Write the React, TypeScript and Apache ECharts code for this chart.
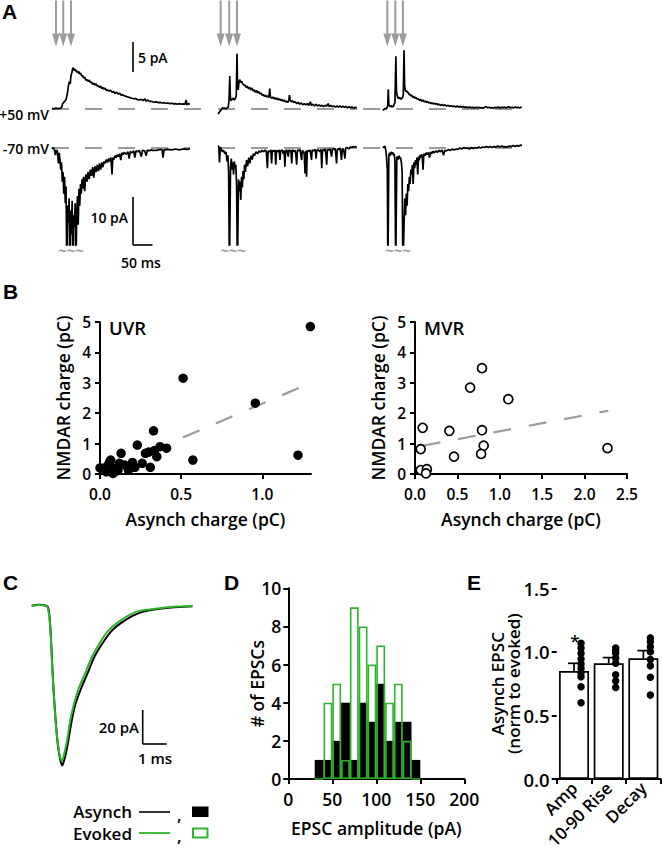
import React, { useEffect, useRef } from "react";
import * as echarts from "echarts";

const FONT = "'Open Sans', 'Noto Sans', sans-serif";
const LETTER_FONT = "'Liberation Sans', Arial, sans-serif";
const WEIGHT = 600;
const GREEN = "#2cb52c";
const GRAY = "#9c9c9c";

// ---------------- Panel A data: [time (ms), current (pA)] ----------------
const col1Pos50: number[][] = [[0,0.1],[5,0.0],[10,0.15],[15,0.05],[20,0.1],[25,0.2],[28,0.9],[31,1.1],[34,1.3],[37,1.6],[40,2.4],[43,3.8],[46,4.6],[48,4.2],[50,5.6],[52,6.0],[54,6.6],[56,6.9],[58,6.4],[60,6.7],[62,6.3],[64,6.5],[66,6.1],[68,6.3],[70,5.9],[72,6.2],[74,5.8],[76,5.9],[78,5.5],[80,5.6],[83,5.2],[86,5.3],[89,4.8],[92,4.9],[95,4.6],[98,4.8],[101,4.4],[104,4.5],[107,4.1],[110,4.3],[113,4.0],[116,4.2],[119,3.8],[122,3.9],[125,3.6],[128,3.8],[131,3.4],[134,3.6],[137,3.3],[140,3.5],[143,3.1],[146,3.2],[150,3.0],[154,3.1],[158,2.8],[162,2.9],[166,2.6],[170,2.8],[174,2.5],[178,2.6],[182,2.3],[186,2.4],[190,2.2],[195,2.1],[200,2.0],[205,1.9],[210,1.8],[215,1.7],[220,1.75],[225,1.55],[230,1.5],[235,1.6],[240,1.4],[244,1.7],[248,1.3],[252,1.5],[256,1.25],[260,1.3],[265,1.2],[270,1.15],[275,1.2],[280,1.05],[285,1.1],[290,1.0],[295,1.05],[300,0.95],[305,1.0],[310,0.9],[315,0.95],[320,0.85],[325,0.9],[330,0.8],[335,0.9],[340,0.8],[345,0.85],[350,0.8],[353,1.5],[355,0.7],[358,0.9],[363,0.8]];
const col1Neg70: number[][] = [[0,-0.2],[3,0.1],[6,-0.3],[9,-1.5],[11,-0.5],[14,-0.6],[17,-3.2],[19,-1.0],[21,-2.5],[23,-4.5],[25,-3.0],[27,-7.0],[29,-5.0],[31,-9.5],[33,-6.0],[35,-11.5],[37,-8.0],[39,-26],[41,-12.0],[43,-15.5],[45,-10.5],[47,-26],[49,-13.0],[51,-18.0],[53,-11.0],[55,-26],[57,-14.0],[59,-16.5],[61,-11.5],[63,-26],[65,-14.0],[67,-10.0],[69,-16.0],[71,-8.5],[73,-12.0],[75,-7.5],[77,-9.5],[79,-6.5],[81,-8.5],[83,-6.0],[86,-9.0],[89,-5.5],[92,-7.0],[95,-5.0],[98,-6.5],[101,-4.5],[104,-5.8],[107,-4.0],[110,-6.2],[113,-3.8],[116,-5.0],[119,-3.5],[122,-4.8],[125,-3.2],[128,-4.5],[131,-3.0],[134,-4.0],[137,-2.8],[140,-3.2],[143,-2.4],[146,-3.0],[149,-2.2],[152,-2.8],[155,-2.0],[158,-5.5],[160,-2.0],[163,-2.4],[166,-1.6],[169,-2.0],[172,-1.4],[175,-1.8],[178,-1.2],[181,-2.5],[184,-1.0],[187,-1.4],[190,-0.9],[195,-1.3],[200,-0.8],[203,-2.2],[206,-0.7],[210,-1.0],[215,-0.6],[218,-2.0],[221,-0.6],[226,-0.8],[230,-0.5],[235,-1.8],[238,-0.5],[244,-0.6],[248,-1.6],[251,-0.4],[256,-0.6],[260,-0.4],[265,-0.5],[275,-0.5],[285,-0.3],[290,-0.4],[292,-2.0],[295,-0.4],[305,-0.3],[315,-0.4],[325,-0.2],[335,-0.4],[345,-0.2],[355,-0.3],[363,-0.2]];

const col2Pos50: number[][] = [[0,-0.8],[3,-0.6],[6,-0.3],[9,-0.1],[12,0.2],[15,0.1],[18,0.15],[21,0.0],[24,0.2],[27,0.3],[29,1.5],[31,5.5],[32.5,2.0],[34,1.4],[37,1.6],[40,1.8],[43,1.5],[46,1.8],[48,2.2],[50,9.2],[51.5,4.0],[53,3.2],[55,4.3],[57,4.9],[59,4.6],[61,4.4],[63,4.6],[65,4.1],[67,4.2],[69,3.9],[71,4.0],[74,3.6],[77,3.8],[80,3.4],[83,3.6],[86,3.2],[89,3.5],[92,3.0],[95,3.2],[98,2.8],[101,3.1],[104,2.7],[107,2.9],[110,2.5],[113,2.7],[116,2.3],[119,2.4],[122,2.1],[125,2.3],[128,2.0],[131,2.2],[134,1.9],[136,3.4],[138,2.0],[141,1.8],[144,2.0],[147,1.7],[150,1.9],[153,1.6],[156,1.8],[159,1.5],[162,1.7],[165,1.4],[168,1.6],[171,1.3],[174,1.5],[177,1.2],[180,1.3],[183,1.1],[186,1.3],[188,2.3],[190,1.5],[193,1.2],[196,1.4],[199,1.1],[203,1.2],[207,0.9],[211,1.1],[215,0.8],[219,1.0],[223,0.7],[227,0.9],[231,0.7],[235,0.9],[239,0.6],[243,1.2],[246,0.6],[250,0.8],[254,0.5],[258,0.8],[262,0.5],[266,0.7],[270,0.5],[274,0.6],[278,0.4],[282,0.6],[286,0.5],[290,0.9],[293,0.4],[297,0.6],[301,0.4],[305,0.5],[309,0.3],[313,0.5],[317,0.3],[321,0.5],[325,0.3],[329,0.45],[333,0.3],[337,0.4],[341,0.2],[345,0.4],[349,0.2],[353,0.35],[357,0.1],[361,0.3],[365,0.15]];
const col2Neg70: number[][] = [[0,0.5],[2,0.3],[4,-3.0],[6,0.2],[9,-0.3],[12,-0.8],[15,-0.5],[18,-1.2],[21,-0.8],[24,-2.8],[26,-1.5],[28,-5.0],[30,-26],[33,-4.0],[35,-2.2],[37,-4.5],[39,-3.0],[41,-5.5],[43,-2.8],[45,-4.2],[47,-3.5],[49,-8.0],[51,-26],[54,-6.5],[56,-9.0],[58,-7.0],[60,-10.8],[62,-6.0],[64,-8.2],[66,-4.8],[68,-6.5],[70,-3.5],[72,-5.0],[75,-2.5],[78,-3.8],[81,-2.0],[84,-3.2],[87,-1.6],[90,-2.4],[93,-1.2],[96,-1.6],[100,-0.8],[104,-1.2],[108,-0.6],[112,-0.9],[116,-0.5],[120,-0.8],[124,-0.4],[127,-0.7],[130,-4.2],[132,-0.6],[136,-0.8],[139,-0.4],[141,-3.2],[143,-0.5],[147,-0.7],[150,-0.4],[152,-3.5],[154,-0.5],[158,-0.8],[161,-0.4],[163,-2.5],[165,-0.6],[169,-0.4],[172,-1.2],[174,-0.5],[176,-3.9],[178,-0.6],[181,-0.4],[183,-1.0],[185,-1.8],[187,-0.4],[190,-0.6],[192,-0.5],[194,-3.2],[196,-0.4],[200,-0.7],[203,-0.5],[205,-1.5],[207,-3.5],[209,-0.4],[213,-0.6],[216,-0.3],[218,-1.5],[220,-2.5],[222,-0.5],[225,-0.8],[227,-1.2],[229,-5.3],[231,-0.6],[233,-6.0],[235,-0.5],[239,-0.7],[242,-0.4],[244,-1.2],[246,-2.5],[248,-0.4],[252,-0.6],[256,-0.3],[258,-2.2],[260,-0.5],[264,-0.4],[268,-0.8],[271,-0.3],[273,-4.2],[275,-0.4],[279,-0.5],[282,-0.2],[284,-1.5],[286,-3.5],[288,-0.3],[292,-0.4],[295,-0.2],[297,-1.0],[299,-1.8],[301,-0.2],[305,-0.3],[308,-0.1],[310,-1.2],[312,-3.2],[314,-0.2],[318,-0.3],[321,0.0],[323,-1.0],[325,-2.5],[327,-0.1],[330,-0.3],[332,-1.0],[334,-2.2],[336,0.0],[340,0.1],[344,-0.2],[348,0.2],[352,0.1],[356,0.3],[360,0.2],[365,0.3]];

const col3Pos50: number[][] = [[52,-0.2],[55,-0.1],[58,0.1],[61,0.0],[63,0.2],[65,0.5],[66.5,3.3],[68,0.8],[70,0.5],[72,0.4],[74,0.6],[76,0.3],[78,0.5],[80,0.4],[82,0.8],[84,1.0],[86.5,8.8],[88,3.0],[90,2.2],[92,1.8],[94,2.0],[96,1.7],[98,1.9],[100,1.6],[102,1.8],[104,1.9],[106,2.4],[108,9.8],[109.5,4.0],[111,3.2],[113,2.9],[115,3.1],[117,2.7],[119,2.8],[121,2.4],[123,2.5],[125,2.2],[128,2.3],[131,1.9],[134,2.1],[137,1.8],[140,1.9],[143,1.6],[146,1.7],[149,1.4],[152,1.6],[155,1.3],[158,1.5],[161,1.2],[164,1.3],[167,1.1],[170,1.25],[173,1.0],[176,1.1],[179,0.9],[182,1.0],[185,0.85],[188,0.95],[191,0.8],[194,0.9],[197,0.7],[200,0.8],[204,0.6],[208,0.75],[212,0.55],[216,0.7],[220,0.5],[224,0.6],[228,0.45],[232,0.55],[236,0.4],[240,0.5],[244,0.35],[248,0.5],[252,0.3],[256,0.45],[260,0.3],[264,0.4],[268,0.25],[272,0.35],[276,0.2],[280,0.35],[284,0.2],[288,0.3],[292,0.15],[296,0.3],[300,0.2],[304,0.3],[308,0.15],[312,0.25],[316,0.1],[320,0.3],[324,0.4],[328,0.2],[332,0.3],[336,0.15],[340,0.25],[344,0.1],[348,0.3],[352,0.2],[356,0.35],[360,0.15],[364,0.3],[368,0.2],[372,0.35],[376,0.15],[380,0.3],[384,0.4],[388,0.2],[392,0.3],[396,0.15],[400,0.35],[404,0.2],[408,0.3],[412,0.15],[416,0.3],[418,0.25]];
const col3Neg70: number[][] = [[52,0.3],[55,0.1],[58,0.4],[60,-0.5],[62,-2.0],[64,-4.5],[65.5,-26],[68,-1.5],[70,-1.0],[72,-1.6],[74,-0.8],[76,-1.2],[78,-0.9],[80,-1.5],[82,-1.2],[84,-2.5],[86,-26],[89,-2.0],[91,-1.8],[93,-2.4],[95,-1.6],[97,-2.2],[99,-2.0],[101,-3.0],[103,-5.0],[105,-26],[108,-16.0],[110,-10.5],[112,-14.0],[114,-9.5],[116,-12.0],[118,-7.5],[120,-9.0],[122,-6.0],[124,-7.5],[126,-4.5],[128,-5.5],[130,-3.5],[132,-7.5],[134,-3.0],[136,-4.2],[138,-2.5],[140,-3.5],[142,-2.0],[144,-5.5],[146,-1.8],[148,-2.6],[150,-1.5],[152,-2.0],[154,-1.3],[156,-1.8],[158,-4.5],[160,-1.2],[163,-1.6],[166,-1.0],[169,-1.4],[172,-0.9],[175,-2.0],[178,-0.8],[181,-1.2],[184,-0.7],[188,-1.0],[192,-0.6],[196,-0.9],[200,-0.5],[204,-0.8],[208,-0.4],[212,-1.5],[215,-0.5],[220,-0.6],[225,-0.3],[230,-0.5],[235,-0.2],[240,-0.4],[245,-0.2],[250,-0.3],[255,0.0],[260,-0.2],[265,0.1],[270,-0.1],[275,0.0],[280,-0.2],[285,0.1],[290,-0.1],[295,0.1],[300,0.0],[305,0.2],[310,0.0],[315,0.2],[320,0.1],[325,0.3],[330,0.1],[335,0.3],[340,0.1],[345,0.3],[350,0.2],[355,0.4],[360,0.2],[365,0.4],[370,0.2],[375,0.3],[380,0.2],[385,0.4],[390,0.3],[395,0.5],[400,0.3],[405,0.5],[410,0.4],[415,0.6],[418,0.5]];

// stimulus times (ms) for the arrows
const stimCol1 = [10.5, 29.5, 50];
const stimCol2 = [7, 29.5, 50];
const stimCol3 = [64, 85, 105];

// ---------------- Panel B data: [asynch charge, NMDAR charge] (pC) ----------------
const uvrPoints: number[][] = [[1.296,4.85],[0.512,3.15],[0.957,2.33],[1.22,0.62],[0.572,0.46],[0.33,1.42],[0.23,0.95],[0.13,0.68],[0.37,0.9],[0.41,0.85],[0.335,0.77],[0.35,0.57],[0.28,0.68],[0.06,0.4],[0.066,0.46],[0.02,0.19],[0.08,0.02],[0.15,0.3],[0.2,0.38],[0.26,0.35],[0.31,0.22],[0.215,0.22],[0.175,0.13],[0.11,0.11],[0.04,0.07],[0.0,0.2],[0.05,0.3],[0.12,0.35],[0.1,0.2],[0.3,0.72],[0.045,0.15]];
const uvrFit: number[][] = [[0.51,1.2],[1.3,3.0]];
const mvrPoints: number[][] = [[0.09,1.52],[0.067,0.82],[0.067,0.13],[0.14,0.16],[0.13,0.02],[0.405,1.42],[0.46,0.57],[0.65,2.84],[0.79,3.48],[0.79,1.44],[0.81,0.93],[0.78,0.66],[1.1,2.46],[2.27,0.85]];
const mvrFit: number[][] = [[0.09,0.93],[2.28,2.08]];

// ---------------- Panel C data: [time (ms), current (pA)] ----------------
const asynchEPSC: number[][] = [[0,0],[0.3,0.5],[0.6,0],[0.68,-1],[0.74,-6],[0.8,-18],[0.87,-39],[0.95,-58],[1.03,-73],[1.1,-83],[1.18,-90],[1.27,-94],[1.35,-91],[1.44,-86],[1.53,-79],[1.65,-69],[1.8,-59],[2.05,-49],[2.32,-40],[2.65,-29],[3.05,-20],[3.35,-14.5],[3.7,-10.4],[4.2,-6],[4.65,-3.5],[5.1,-2.3],[5.6,-1.4],[6.1,-0.8],[6.7,-0.3]];
const evokedEPSC: number[][] = [[0,0],[0.3,0.4],[0.55,0.2],[0.65,-0.5],[0.72,-5],[0.79,-17],[0.86,-38],[0.94,-57],[1.02,-72],[1.1,-82],[1.18,-89],[1.26,-91],[1.34,-88],[1.42,-83],[1.49,-78],[1.6,-68],[1.74,-59],[1.95,-49],[2.22,-40],[2.55,-29],[2.92,-20],[3.2,-14.5],[3.54,-10.4],[4.0,-6],[4.44,-3.2],[4.9,-2.2],[5.4,-1.3],[5.9,-0.6],[6.3,-0.4],[6.7,0]];

// ---------------- Panel D data ----------------
const binCenters = [35, 45, 55, 65, 75, 85, 95, 105, 115, 125, 135, 145];
const asynchCounts = [1, 1, 2, 4, 1, 4, 3, 5, 2, 3, 3, 1];
const evokedCounts = [0, 4, 5, 1, 9, 8, 6, 7, 4, 5, 2, 0];

// ---------------- Panel E data ----------------
const eCategories = ["Amp", "10-90 Rise", "Decay"];
const eMeans = [0.85, 0.91, 0.95];
const eSem = [0.06, 0.045, 0.06];
const ampDots = [1.067, 1.03, 0.99, 0.944, 0.905, 0.87, 0.836, 0.805, 0.726, 0.6];
const riseDots = [1.03, 1.01, 0.99, 0.95, 0.91, 0.82, 0.77, 0.72];
const decayDots = [1.11, 1.08, 1.04, 1.0, 0.94, 0.89, 0.8, 0.66];

function buildOption() {
  const grid: any[] = [];
  const xAxis: any[] = [];
  const yAxis: any[] = [];
  const series: any[] = [];
  const graphic: any[] = [];

  const addGrid = (g: any, xa: any, ya: any) => {
    const i = grid.length;
    grid.push({ ...g, containLabel: false });
    xAxis.push({ nameMoveOverlap: false, ...xa, gridIndex: i });
    yAxis.push({ nameMoveOverlap: false, ...ya, gridIndex: i });
    return i;
  };

  const txt = (text: string, x: number, y: number, o: any = {}) => ({
    type: "text",
    x,
    y,
    silent: true,
    rotation: o.rotation || 0,
    style: {
      text,
      fill: o.fill || "#000",
      fontSize: o.size || 15,
      lineHeight: o.lineHeight || Math.round((o.size || 15) * 1.05),
      fontFamily: o.family || FONT,
      fontWeight: o.weight || WEIGHT,
      textAlign: o.align || "left",
      textVerticalAlign: o.valign || "middle",
    },
  });
  const ln = (x1: number, y1: number, x2: number, y2: number, color = "#000", w = 1.6) => ({
    type: "line",
    silent: true,
    shape: { x1, y1, x2, y2 },
    style: { stroke: color, lineWidth: w },
  });

  // ------------- Panel A -------------
  const MS_PX = 0.38;
  const TOP = { top: 0, height: 125, base: 109, pxPerPA: 6 };
  const BOT = { top: 130, height: 115, base: 148, pxPerPA: 4.8 };
  const cols = [
    { left: 52, wTop: 164, wBot: 138, pos: col1Pos50, neg: col1Neg70, stim: stimCol1 },
    { left: 218, wTop: 139, wBot: 139, pos: col2Pos50, neg: col2Neg70, stim: stimCol2 },
    { left: 363, wTop: 159, wBot: 159, pos: col3Pos50, neg: col3Neg70, stim: stimCol3 },
  ];
  const arrowY = (TOP.base - 23.5) / TOP.pxPerPA;
  cols.forEach((c) => {
    [
      { L: TOP, w: c.wTop, data: c.pos, stim: c.stim },
      { L: BOT, w: c.wBot, data: c.neg, stim: null as any },
    ].forEach(({ L, w, data, stim }) => {
      const xMax = w / MS_PX;
      const gi = addGrid(
        { left: c.left, top: L.top, width: w, height: L.height },
        { type: "value", min: 0, max: xMax, show: false },
        {
          type: "value",
          min: -(L.top + L.height - L.base) / L.pxPerPA,
          max: (L.base - L.top) / L.pxPerPA,
          show: false,
        }
      );
      series.push({
        type: "line",
        xAxisIndex: gi,
        yAxisIndex: gi,
        data: [[0, 0], [xMax, 0]],
        showSymbol: false,
        silent: true,
        z: 1,
        lineStyle: { color: GRAY, width: 2.2, type: [17, 16] },
      });
      series.push({
        type: "line",
        xAxisIndex: gi,
        yAxisIndex: gi,
        data,
        showSymbol: false,
        silent: true,
        clip: true,
        z: 3,
        lineStyle: { color: "#000", width: 1.7 },
      });
      if (stim) {
        series.push({
          type: "scatter",
          xAxisIndex: gi,
          yAxisIndex: gi,
          data: stim.map((t: number) => [t, arrowY]),
          symbol: "path://M3,0L5,0L5,33L8,33L4,46L0,33L3,33Z",
          symbolSize: [8, 46],
          silent: true,
          itemStyle: { color: GRAY, opacity: 1 },
          z: 2,
        });
      }
    });
  });
  // labels and scale bars of A
  graphic.push(txt("A", 2, 11, { size: 21, weight: "bold", family: LETTER_FONT }));
  graphic.push(txt("+50 mV", 49, 114, { align: "right", size: 14 }));
  graphic.push(txt("-70 mV", 49, 148, { align: "right", size: 14 }));
  graphic.push(ln(133, 42, 133, 72));
  graphic.push(txt("5 pA", 138, 57, { size: 14 }));
  graphic.push(ln(133, 197, 133, 245));
  graphic.push(ln(133, 245, 152.5, 245));
  graphic.push(txt("10 pA", 128, 217, { align: "right", size: 14 }));
  graphic.push(txt("50 ms", 141, 262, { align: "center", size: 14 }));
  [71, 233, 398].forEach((x) =>
    graphic.push(txt("~~~", x, 250, { align: "center", size: 15, fill: GRAY, weight: "bold" }))
  );

  // ------------- shared axis styles -------------
  const axLine = { lineStyle: { color: "#000", width: 2 } };
  const axTick = { show: true, length: 5, lineStyle: { color: "#000", width: 2 } };
  const nameStyle = { color: "#000", fontFamily: FONT, fontSize: 17.5, fontWeight: WEIGHT };
  const lbl = (size: number, extra: any = {}) => ({
    color: "#000",
    fontFamily: FONT,
    fontSize: size,
    fontWeight: WEIGHT,
    ...extra,
  });

  // ------------- Panel B -------------
  const bPanels = [
    { left: 100, width: 211, max: 1.3, ticks: [0, 0.5, 1.0], pts: uvrPoints, fit: uvrFit, filled: true, title: "UVR" },
    { left: 415, width: 212, max: 2.5, ticks: [0, 0.5, 1.0, 1.5, 2.0, 2.5], pts: mvrPoints, fit: mvrFit, filled: false, title: "MVR" },
  ];
  bPanels.forEach((p) => {
    const gi = addGrid(
      { left: p.left, top: 322, width: p.width, height: 152 },
      {
        type: "value",
        min: 0,
        max: p.max,
        interval: 0.5,
        axisLine: axLine,
        axisTick: { ...axTick, customValues: p.ticks },
        axisLabel: lbl(15.5, { margin: 12, customValues: p.ticks, formatter: (v: number) => v.toFixed(1) }),
        splitLine: { show: false },
        name: "Asynch charge (pC)",
        nameLocation: "middle",
        nameGap: 36,
        nameTextStyle: nameStyle,
      },
      {
        type: "value",
        min: 0,
        max: 5,
        interval: 1,
        axisLine: axLine,
        axisTick: axTick,
        axisLabel: lbl(15.5, { margin: 9 }),
        splitLine: { show: false },
        name: "NMDAR charge (pC)",
        nameLocation: "middle",
        nameGap: 28,
        nameTextStyle: nameStyle,
      }
    );
    series.push({
      type: "line",
      xAxisIndex: gi,
      yAxisIndex: gi,
      data: p.fit,
      showSymbol: false,
      silent: true,
      z: 2,
      lineStyle: { color: GRAY, width: 2.2, type: [18, 18] },
    });
    series.push({
      type: "scatter",
      xAxisIndex: gi,
      yAxisIndex: gi,
      data: p.pts,
      symbol: "circle",
      symbolSize: p.filled ? 9.5 : 9,
      clip: false,
      silent: true,
      z: 3,
      itemStyle: p.filled
        ? { color: "#000", opacity: 1 }
        : { color: "#fff", borderColor: "#000", borderWidth: 1.7, opacity: 1 },
    });
    graphic.push(txt(p.title, p.left + 9, 327, { size: 18.5 }));
  });
  graphic.push(txt("B", 3, 291, { size: 21, weight: "bold", family: LETTER_FONT }));

  // ------------- Panel C -------------
  const cBase = 605.7;
  const cPxPerPA = 1.7;
  const cPxPerMs = 24;
  const cGi = addGrid(
    { left: 31.7, top: cBase - 6 * cPxPerPA, width: 6.7 * cPxPerMs, height: 106 * cPxPerPA },
    { type: "value", min: 0, max: 6.7, show: false },
    { type: "value", min: -100, max: 6, show: false }
  );
  series.push({
    type: "line",
    xAxisIndex: cGi,
    yAxisIndex: cGi,
    data: asynchEPSC,
    showSymbol: false,
    smooth: 0.3,
    silent: true,
    z: 2,
    lineStyle: { color: "#000", width: 2 },
  });
  series.push({
    type: "line",
    xAxisIndex: cGi,
    yAxisIndex: cGi,
    data: evokedEPSC,
    showSymbol: false,
    smooth: 0.3,
    silent: true,
    z: 3,
    lineStyle: { color: GREEN, width: 2 },
  });
  graphic.push(txt("C", 3, 582, { size: 21, weight: "bold", family: LETTER_FONT }));
  graphic.push(ln(142.7, 710, 142.7, 744));
  graphic.push(ln(142.7, 744, 166.7, 744));
  graphic.push(txt("20 pA", 139, 727, { align: "right", size: 15 }));
  graphic.push(txt("1 ms", 155, 758, { align: "center", size: 15 }));
  // legend
  graphic.push(txt("Asynch", 132, 811, { align: "right", size: 17, lineHeight: 18 }));
  graphic.push(ln(139, 812, 170, 812, "#000", 1.6));
  graphic.push(txt(",", 177, 814, { size: 17, lineHeight: 18 }));
  graphic.push({ type: "rect", silent: true, shape: { x: 192, y: 806.5, width: 16.5, height: 10.5 }, style: { fill: "#000" } });
  graphic.push(txt("Evoked", 132, 833, { align: "right", size: 17, lineHeight: 18 }));
  graphic.push(ln(139, 833, 170, 833, GREEN, 1.8));
  graphic.push(txt(",", 177, 835, { size: 17, lineHeight: 18 }));
  graphic.push({ type: "rect", silent: true, shape: { x: 193, y: 828.5, width: 14.5, height: 9 }, style: { fill: "#fff", stroke: GREEN, lineWidth: 2 } });

  // ------------- Panel D -------------
  const dGi = addGrid(
    { left: 288.3, top: 588.3, width: 176, height: 190.7 },
    {
      type: "value",
      min: 0,
      max: 200,
      interval: 50,
      axisLine: axLine,
      axisTick: axTick,
      axisLabel: lbl(17.5, { margin: 11 }),
      splitLine: { show: false },
      name: "EPSC amplitude (pA)",
      nameLocation: "middle",
      nameGap: 40,
      nameTextStyle: nameStyle,
    },
    {
      type: "value",
      min: 0,
      max: 10,
      interval: 2,
      axisLine: axLine,
      axisTick: axTick,
      axisLabel: lbl(17.5, { margin: 7 }),
      splitLine: { show: false },
      name: "# of EPSCs",
      nameLocation: "middle",
      nameGap: 22,
      nameTextStyle: nameStyle,
    }
  );
  series.push({
    type: "bar",
    xAxisIndex: dGi,
    yAxisIndex: dGi,
    data: binCenters.map((c, i) => [c, asynchCounts[i]]),
    barWidth: 8.8,
    barGap: "-100%",
    silent: true,
    z: 2,
    itemStyle: { color: "#000" },
  });
  series.push({
    type: "bar",
    xAxisIndex: dGi,
    yAxisIndex: dGi,
    data: binCenters.map((c, i) => [c, evokedCounts[i]]),
    barWidth: 8.8,
    barGap: "-100%",
    silent: true,
    z: 3,
    itemStyle: { color: "rgba(0,0,0,0)", borderColor: GREEN, borderWidth: 1.6 },
  });
  graphic.push(txt("D", 224, 582, { size: 21, weight: "bold", family: LETTER_FONT }));

  // ------------- Panel E -------------
  const eGi = addGrid(
    { left: 556.7, top: 588.3, width: 104, height: 190.7 },
    {
      type: "category",
      data: eCategories,
      axisLine: axLine,
      axisTick: { ...axTick, alignWithLabel: false },
      axisLabel: lbl(17, { rotate: 45, margin: 6, interval: 0 }),
      splitLine: { show: false },
    },
    {
      type: "value",
      min: 0,
      max: 1.5,
      interval: 0.5,
      axisLine: axLine,
      axisTick: axTick,
      axisLabel: lbl(18.5, { margin: 7, formatter: (v: number) => v.toFixed(1) }),
      splitLine: { show: false },
      name: "Asynch EPSC\n(norm to evoked)",
      nameLocation: "middle",
      nameGap: 35,
      nameTextStyle: { ...nameStyle, fontSize: 17, lineHeight: 16 },
    }
  );
  series.push({
    type: "bar",
    xAxisIndex: eGi,
    yAxisIndex: eGi,
    data: eMeans,
    barWidth: 30,
    silent: true,
    z: 2,
    itemStyle: { color: "#fff", borderColor: "#000", borderWidth: 1.7 },
  });
  series.push({
    type: "custom",
    xAxisIndex: eGi,
    yAxisIndex: eGi,
    data: eMeans.map((m, i) => [i, m, eSem[i]]),
    encode: { x: 0, y: 1 },
    silent: true,
    z: 3,
    renderItem: (_params: any, api: any) => {
      const i = api.value(0);
      const m = api.value(1);
      const s = api.value(2);
      const p0 = api.coord([i, m]);
      const p1 = api.coord([i, m + s]);
      return {
        type: "group",
        children: [
          { type: "line", shape: { x1: p0[0], y1: p0[1], x2: p1[0], y2: p1[1] }, style: { stroke: "#000", lineWidth: 1.7 } },
          { type: "line", shape: { x1: p1[0] - 6, y1: p1[1], x2: p1[0] + 6, y2: p1[1] }, style: { stroke: "#000", lineWidth: 1.7 } },
        ],
      };
    },
  });
  const dotSets = [ampDots, riseDots, decayDots];
  series.push({
    type: "scatter",
    xAxisIndex: eGi,
    yAxisIndex: eGi,
    data: dotSets.flatMap((arr, i) => arr.map((v) => [i, v])),
    symbol: "circle",
    symbolSize: 7.5,
    symbolOffset: [7, 0],
    silent: true,
    z: 4,
    itemStyle: { color: "#000", opacity: 1 },
  });
  graphic.push(txt("*", 575, 640, { align: "center", size: 17 }));
  graphic.push(txt("E", 467, 582, { size: 21, weight: "bold", family: LETTER_FONT }));

  return {
    animation: false,
    backgroundColor: "#fff",
    grid,
    xAxis,
    yAxis,
    series,
    graphic: { elements: graphic },
  };
}

export default function App() {
  const ref = useRef<HTMLDivElement>(null);
  useEffect(() => {
    if (!ref.current) return;
    const chart = echarts.init(ref.current, null, { renderer: "svg" });
    chart.setOption(buildOption() as any);
    return () => chart.dispose();
  }, []);
  return (
    <div
      ref={ref}
      style={{ position: "absolute", left: 0, top: 0, width: 662, height: 853 }}
    />
  );
}
